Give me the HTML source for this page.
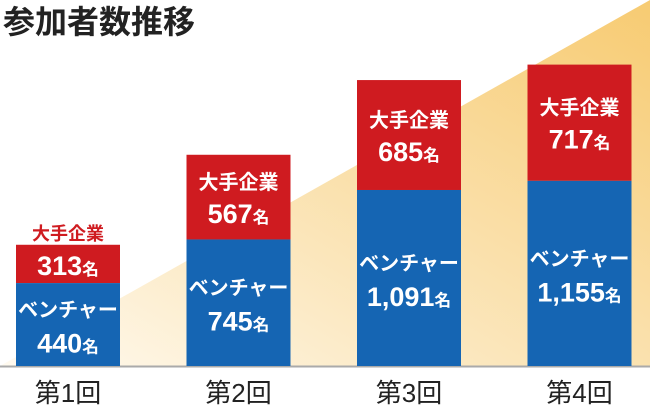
<!DOCTYPE html>
<html><head><meta charset="utf-8"><style>
body{margin:0;width:650px;height:410px;overflow:hidden;background:#fff;font-family:"Liberation Sans","Noto Sans CJK JP",sans-serif;}
svg text{font-family:"Liberation Sans","Noto Sans CJK JP",sans-serif;}
</style></head><body>
<svg id="c" width="650" height="410">
<defs><linearGradient id="g" x1="0" y1="1" x2="1" y2="0">
<stop offset="0" stop-color="#fffaf0"/><stop offset="0.4" stop-color="#fbe6bb"/><stop offset="1" stop-color="#f7cb72"/></linearGradient></defs>
<polygon points="0,366 650,0 650,366" fill="url(#g)"/>
<text x="3" y="33" font-size="32" font-weight="bold" fill="#222">参加者数推移</text>
<line x1="0" y1="366.5" x2="650" y2="366.5" stroke="#aaa" stroke-width="2"/>
<g id="bars"></g>
</svg>
<script>
const categories=["第1回","第2回","第3回","第4回"];
const ventureValues=[440,745,1091,1155];
const corpValues=[313,567,685,717];
const ventureLabels=["440","745","1,091","1,155"];
const corpLabels=["313","567","685","717"];
const ns="http://www.w3.org/2000/svg";
const g=document.getElementById('bars');
const base=366,scale=0.161;
const xOf=i=>16+i*170.5, bw=104;
function mk(t,a){const e=document.createElementNS(ns,t);for(const k in a)e.setAttribute(k,a[k]);g.appendChild(e);return e;}
function txt(x,y,s,size,fill,unit){const t=mk('text',{x:x,y:y,'font-size':size,'font-weight':'bold',fill:fill,'text-anchor':'middle'});t.textContent=s;if(unit){const sp=document.createElementNS(ns,'tspan');sp.setAttribute('font-size',size*0.62);sp.textContent='名';t.appendChild(sp);}return t;}
categories.forEach((c,i)=>{
 const x=xOf(i),cx=x+bw/2;
 const total=ventureValues[i]+corpValues[i];
 const topY=base-total*scale;
 const bh=Math.min(20+ventureValues[i]*0.143,total*scale-30);
 const blueY=base-bh;
 const r=mk('rect',{x:x,y:topY,width:bw,height:blueY-topY,fill:'#cf1b20'});
 
 
 const b=mk('rect',{x:x,y:blueY,width:bw,height:bh,fill:'#1565b3'});
 
 
 const rh=blueY-topY;
 let t1,t2;
 if(rh<60){
  t1=txt(cx,topY-5,'大手企業',18,'#cf1b20');
  t2=txt(cx,topY+rh/2+11,corpLabels[i],27,'#fff',true);
 }else{
  const m=topY+rh/2;
  t1=txt(cx,m-8,'大手企業',20,'#fff');
  t2=txt(cx,m+26,corpLabels[i],27,'#fff',true);
 }
 
 
 
 
 const bm=blueY+bh/2;
 const t3=txt(cx,bm-8,'ベンチャー',20,'#fff');
 
 
 const t4=txt(cx,bm+28,ventureLabels[i],27,'#fff',true);
 
 
 const t5=txt(cx,402,c,26,'#222');
 t5.setAttribute('font-weight','normal');
 
 
});
</script>
</body></html>
